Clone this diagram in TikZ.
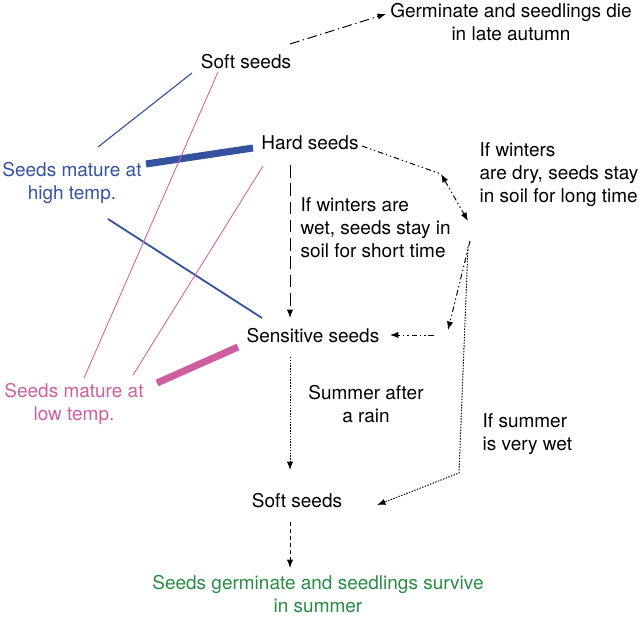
\documentclass[tikz,border=0pt]{standalone}
\usepackage{fontspec}
\setmainfont{TeX Gyre Heros}
\usetikzlibrary{arrows.meta,calc}
\definecolor{hotcolor}{RGB}{52,82,160}
\definecolor{coldcolor}{RGB}{205,95,160}
\definecolor{growcolor}{RGB}{40,140,70}

\begin{document}
\begin{tikzpicture}[x=0.025cm, y=-0.025cm,
    txt/.style={font=\fontsize{13.5}{16.4}\selectfont, inner sep=1pt},
    tip/.style={-{Latex[length=6pt,width=4.5pt]}, line width=0.7pt},
    dashdot/.style={tip, dash pattern=on 7pt off 2.5pt on 1pt off 2.5pt},
    dashdotdot/.style={tip, dash pattern=on 4pt off 2pt on 1pt off 2pt on 1pt off 2pt},
    longdash/.style={tip, dash pattern=on 9pt off 4pt},
    dots/.style={tip, dash pattern=on 1pt off 1pt},
    shortdash/.style={tip, dash pattern=on 3pt off 2pt}]
    \useasboundingbox (0,0) rectangle (640,617);

    % Seed states
    \node[txt] (softtop) at (246, 62) {Soft seeds};
    \node[txt] (hard) at (310, 143) {Hard seeds};
    \node[txt] (sens) at (313, 336) {Sensitive seeds};
    \node[txt] (softbot) at (297, 501) {Soft seeds};

    % Outcomes
    \node[txt, align=center] (germ) at (511, 22) {Germinate and seedlings die\\in late autumn};
    \node[txt, align=center, text=growcolor] (survive) at (318, 594) {Seeds germinate and seedlings survive\\in summer};

    % Maturation temperature
    \node[txt, align=center, text=hotcolor] (high) at (72, 183) {Seeds mature at\\high temp.};
    \node[txt, align=center, text=coldcolor] (low) at (74, 404) {Seeds mature at\\low temp.};

    % Conditions
    \node[txt, align=left, anchor=west] (dry) at (478, 175) {If winters\\are dry, seeds stay\\in soil for long time};
    \node[txt, align=left, anchor=west] (wet) at (299, 228) {If winters are\\wet, seeds stay in\\soil for short time};
    \node[txt, align=center] (rain) at (366, 404) {Summer after\\a rain};
    \node[txt, align=left, anchor=west] (summer) at (481, 434) {If summer\\is very wet};

    % Turning points
    \coordinate (bend) at ($(dry.west)+(-37,-1)$);
    \coordinate (fork) at ($(dry.west)+(-10,46)$);
    \coordinate (split) at ($(dry.west)+(-8,66)$);
    \coordinate (corner) at ($(dry.west)+(-30,155)$);
    \coordinate (knee) at ($(summer.west)+(-22,39)$);

    % Links to high temp.
    \draw[hotcolor, line width=0.8pt] ($(softtop)+(-54,11)$) -- ($(high)+(26,-36)$);
    \draw[hotcolor, line width=5pt] ($(hard)+(-57,5)$) -- ($(high)+(74,-19)$);
    \draw[hotcolor, line width=1.3pt] ($(sens)+(-51,-18)$) -- ($(high)+(36,36)$);

    % Links to low temp.
    \draw[coldcolor, line width=0.6pt] ($(softtop)+(-28,10)$) -- ($(low)+(10,-26)$);
    \draw[coldcolor, line width=0.6pt] ($(hard)+(-47,23)$) -- ($(low)+(59,-29)$);
    \draw[coldcolor, line width=5pt] ($(sens)+(-75,11)$) -- ($(low)+(83,-21)$);

    % Arrows
    \draw[dashdot] ($(softtop)+(44,-18)$) -- ($(germ)+(-125,-8)$);
    \draw[dashdotdot, -] ($(hard)+(52,3)$) -- (bend);
    \draw[dashdotdot, {Latex[length=6pt,width=4.5pt]}-{Latex[length=6pt,width=4.5pt]}] (bend) -- (fork);
    \draw[dashdotdot] (split) -- (corner);
    \draw[dashdotdot] ($(sens)+(121,-1)$) -- ($(sens)+(77,-1)$);
    \draw[dots] ($(split)+(-2,6)$) -- (knee) -- ($(softbot)+(80,4)$);
    \draw[longdash] ($(hard)+(-20,22)$) -- ($(sens)+(-23,-18)$);
    \draw[dots] ($(sens)+(-23,21)$) -- ($(softbot)+(-7,-31)$);
    \draw[shortdash] ($(softbot)+(-7,21)$) -- ($(survive)+(-28,-26)$);
\end{tikzpicture}
\end{document}
